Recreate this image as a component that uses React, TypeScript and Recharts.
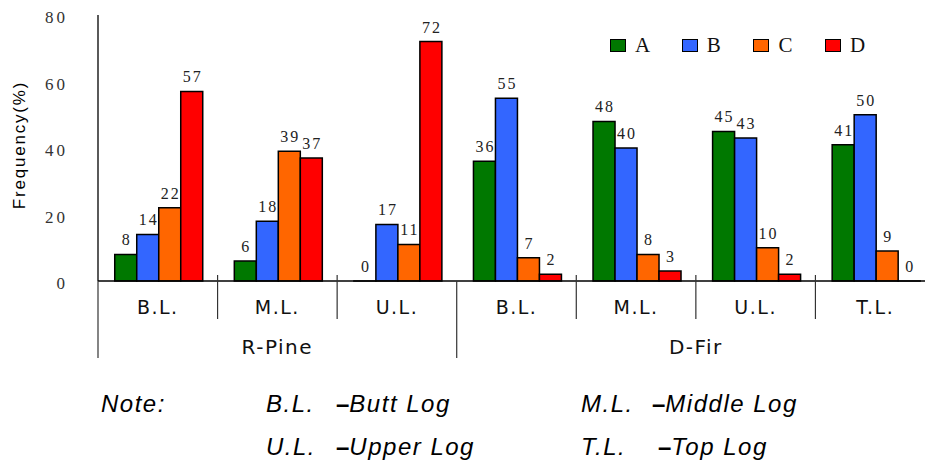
import { BarChart, Bar, XAxis, YAxis, LabelList, Legend, Label } from 'recharts';

// log position within the stem, and the species each group belongs to
const categories = ['B.L.', 'M.L.', 'U.L.', 'B.L.', 'M.L.', 'U.L.', 'T.L.'];
const species = ['R-Pine', 'R-Pine', 'R-Pine', 'D-Fir', 'D-Fir', 'D-Fir', 'D-Fir'];

const seriesA = [8, 6, 0, 36, 48, 45, 41];
const seriesB = [14, 18, 17, 55, 40, 43, 50];
const seriesC = [22, 39, 11, 7, 8, 10, 9];
const seriesD = [57, 37, 72, 2, 3, 2, 0];

const seriesNames = ['A', 'B', 'C', 'D'];
const seriesColors = ['#007800', '#3366ff', '#ff6600', '#ff0000'];
const yTicks = [0, 20, 40, 60, 80];

const noteRows = [
  [['B.L.', 'Butt Log'], ['M.L.', 'Middle Log']],
  [['U.L.', 'Upper Log'], ['T.L.', 'Top Log']],
];

const data = categories.map((name, i) => ({
  name,
  group: species[i],
  A: seriesA[i],
  B: seriesB[i],
  C: seriesC[i],
  D: seriesD[i],
}));

const CHART_W = 935;
const CHART_H = 469;
const MARGIN = { top: 15, right: 0, left: 8, bottom: 0 };
const Y_AXIS_W = 90;
const X_AXIS_H = 188;
const BAND = (CHART_W - MARGIN.left - MARGIN.right - Y_AXIS_W) / categories.length;

const serif = '"Liberation Serif", "DejaVu Serif", serif';
const sans = '"DejaVu Sans", sans-serif';
const arial = '"Liberation Sans", Arial, sans-serif';

function GroupTick(props: any) {
  const { x, y, payload } = props;
  const i = payload.index;
  const left = x - BAND / 2;
  const groupStart = i === 0 || species[i] !== species[i - 1];
  let count = 0;
  if (groupStart) {
    while (i + count < species.length && species[i + count] === species[i]) count++;
  }
  return (
    <g>
      <line
        x1={left}
        y1={groupStart ? y : y - 6}
        x2={left}
        y2={groupStart ? y + 77 : y + 38}
        stroke="#333"
        strokeWidth={1.2}
      />
      <text x={x} y={y + 33} textAnchor="middle" fontFamily={sans} fontSize={19} letterSpacing={1.5} fill="#111">
        {payload.value}
      </text>
      {groupStart && (
        <text
          x={left + (count * BAND) / 2}
          y={y + 73}
          textAnchor="middle"
          fontFamily={sans}
          fontSize={20}
          letterSpacing={1.5}
          fill="#111"
        >
          {species[i]}
        </text>
      )}
    </g>
  );
}

// value above each bar, zero-height bars included
function BarValue(props: any) {
  const { x, y, width, value } = props;
  if (value == null) return null;
  return (
    <text
      x={Number(x) + Number(width) / 2 + 1}
      y={Number(y) - 9}
      textAnchor="middle"
      fontFamily={serif}
      fontSize={16}
      letterSpacing={2}
      fill="#222"
    >
      {value}
    </text>
  );
}

function LegendBox(props: any) {
  const { payload } = props;
  return (
    <div style={{ display: 'flex' }}>
      {(payload || []).map((p: any) => (
        <div key={p.value} style={{ display: 'flex', alignItems: 'center', width: 71.7 }}>
          <span
            style={{
              display: 'inline-block',
              width: 14,
              height: 11,
              background: p.color,
              border: '1.5px solid #000',
              marginRight: 9,
            }}
          />
          <span style={{ fontFamily: serif, fontSize: 21, color: '#111' }}>{p.value}</span>
        </div>
      ))}
    </div>
  );
}

function YLabel(props: any) {
  const { viewBox } = props;
  const cx = viewBox.x + 17;
  const cy = viewBox.y + viewBox.height / 2 - 3;
  return (
    <text
      x={cx}
      y={cy}
      transform={`rotate(-90, ${cx}, ${cy})`}
      textAnchor="middle"
      fontFamily={arial}
      fontSize={17}
      letterSpacing={1.8}
      fill="#000"
    >
      Frequency(%)
    </text>
  );
}

const noteText: any = {
  position: 'absolute',
  fontFamily: arial,
  fontStyle: 'italic',
  fontSize: 24,
  lineHeight: '24px',
  letterSpacing: 1.5,
  color: '#000',
  whiteSpace: 'nowrap',
};

// keep zero values as (invisible) rectangles so their labels are drawn
const keepZero = (v: number) => (v === 0 ? 0.01 : 0);

export default function App() {
  const rowTops = [392, 435];
  const abbrLeft = [266, 581];
  const descLeft = [[336, 652], [336, 658]];
  return (
    <div
      style={{
        position: 'absolute',
        top: 0,
        left: 0,
        width: 925,
        height: 469,
        overflow: 'hidden',
        background: '#fff',
      }}
    >
      <BarChart width={CHART_W} height={CHART_H} data={data} margin={MARGIN} barCategoryGap="14%" barGap={0}>
        <XAxis
          dataKey="name"
          height={X_AXIS_H}
          interval={0}
          tickLine={false}
          tickSize={0}
          tickMargin={0}
          axisLine={{ stroke: '#000', strokeWidth: 1.3 }}
          tick={<GroupTick />}
        />
        <YAxis
          width={Y_AXIS_W}
          domain={[0, 80]}
          ticks={yTicks}
          interval={0}
          tickLine={false}
          tickSize={0}
          tickMargin={30}
          axisLine={{ stroke: '#000', strokeWidth: 1.3 }}
          tick={{ fontFamily: serif, fontSize: 17, letterSpacing: 3, fill: '#333', dy: 2 }}
        >
          <Label content={<YLabel />} />
        </YAxis>
        <Legend
          layout="horizontal"
          verticalAlign="middle"
          align="center"
          wrapperStyle={{ top: 33, left: 610, width: 300 }}
          content={<LegendBox />}
        />
        {seriesNames.map((key, idx) => (
          <Bar
            key={key}
            dataKey={key}
            name={key}
            fill={seriesColors[idx]}
            stroke="#000"
            strokeWidth={1.5}
            minPointSize={keepZero as any}
            isAnimationActive={false}
          >
            <LabelList dataKey={key} content={<BarValue />} />
          </Bar>
        ))}
      </BarChart>
      <div style={{ ...noteText, left: 101, top: rowTops[0] }}>Note:</div>
      {noteRows.map((row, r) =>
        row.map(([abbr, desc], c) => (
          <div key={`${r}-${c}`}>
            <div style={{ ...noteText, left: abbrLeft[c], top: rowTops[r] }}>{abbr}</div>
            <div style={{ ...noteText, left: descLeft[r][c], top: rowTops[r] }}>
              <span style={{ fontStyle: 'normal', fontWeight: 'bold', letterSpacing: 0 }}>–</span>
              {desc}
            </div>
          </div>
        ))
      )}
    </div>
  );
}
